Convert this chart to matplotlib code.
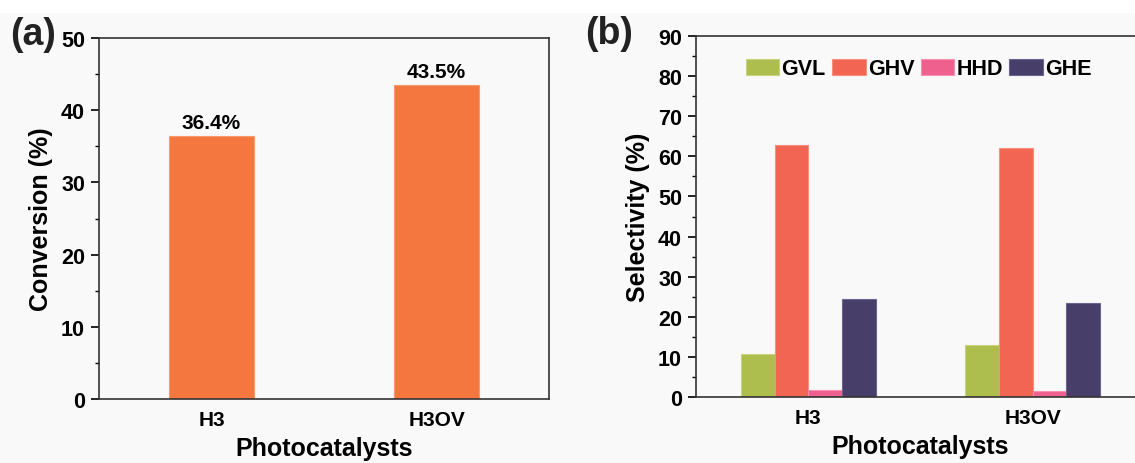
import matplotlib
matplotlib.use('Agg')
import matplotlib.pyplot as plt
import numpy as np
from matplotlib.ticker import MultipleLocator

plt.rcParams['font.family'] = ['Liberation Sans', 'DejaVu Sans']
plt.rcParams['font.weight'] = 'bold'
plt.rcParams['axes.labelweight'] = 'bold'

# data
catalysts = ['H3', 'H3OV']
conversion = [36.4, 43.5]
conv_labels = ['36.4%', '43.5%']

products = ['GVL', 'GHV', 'HHD', 'GHE']
selectivity = {
    'GVL': [10.8, 12.9],
    'GHV': [62.9, 62.2],
    'HHD': [1.8, 1.4],
    'GHE': [24.4, 23.4],
}
prod_colors = ['#adbe4e', '#f26552', '#f0608e', '#473e6a']
prod_edges = ['#c8d57e', '#f7917f', '#f590b2', '#6b6390']

bg = '#f9f9f9'
fig = plt.figure(figsize=(11.35, 4.64), dpi=100, facecolor=bg)
# white strip at top
fig.patches.append(plt.Rectangle((0, 1 - 14 / 464), 1, 14 / 464, transform=fig.transFigure,
                                 facecolor='white', edgecolor='none', zorder=0))


def style_axis(ax, ymax):
    ax.set_facecolor(bg)
    ax.set_xlim(-0.5, 1.5)
    ax.set_ylim(0, ymax)
    ax.yaxis.set_major_locator(MultipleLocator(10))
    ax.yaxis.set_minor_locator(MultipleLocator(5))
    ax.tick_params(axis='y', which='major', length=6, width=1.2, labelsize=15.5, direction='out', pad=4)
    ax.tick_params(axis='y', which='minor', length=3, width=1.0, direction='out')
    ax.tick_params(axis='x', length=0, labelsize=15, pad=8)
    ax.set_xticks(range(len(catalysts)))
    ax.set_xticklabels(catalysts)
    for s in ax.spines.values():
        s.set_linewidth(1.2)
        s.set_color('#333333')
    ax.set_xlabel('Photocatalysts', fontsize=18, labelpad=5)


# panel (a)
ax1 = fig.add_axes([99 / 1135, 1 - 400 / 464, 450 / 1135, 361 / 464])
x = np.arange(len(catalysts))
ax1.bar(x, conversion, width=0.38, color='#f47740', edgecolor='#f89a6c', linewidth=0.8)
for xi, v, t in zip(x, conversion, conv_labels):
    ax1.text(xi, v + 0.6, t, ha='center', va='bottom', fontsize=15, fontweight='bold')
style_axis(ax1, 50)
ax1.set_ylabel('Conversion (%)', fontsize=18, labelpad=6)
fig.text(10 / 1135, 1 - 35 / 464, '(a)', fontsize=27, fontweight='bold', va='center', color='#222222')

# panel (b)
ax2 = fig.add_axes([696 / 1135, 1 - 398 / 464, 449 / 1135, 361 / 464])
w = 0.15
for i, (p, c, ec) in enumerate(zip(products, prod_colors, prod_edges)):
    ax2.bar(x + (i - 1.5) * w, selectivity[p], width=w, color=c, edgecolor=ec,
            linewidth=0.8, label=p)
style_axis(ax2, 90)
ax2.set_ylabel('Selectivity (%)', fontsize=18, labelpad=6)
ax2.legend(loc='center left', bbox_to_anchor=(50 / 449, 1 - 33 / 361), ncol=4, frameon=False,
           fontsize=15.5, handlelength=1.55, handleheight=0.8, handletextpad=0.1,
           columnspacing=0.3, borderaxespad=0, borderpad=0)
fig.text(585 / 1135, 1 - 34 / 464, '(b)', fontsize=27, fontweight='bold', va='center', color='#222222')

fig.savefig('out.png', dpi=100, facecolor=bg)
